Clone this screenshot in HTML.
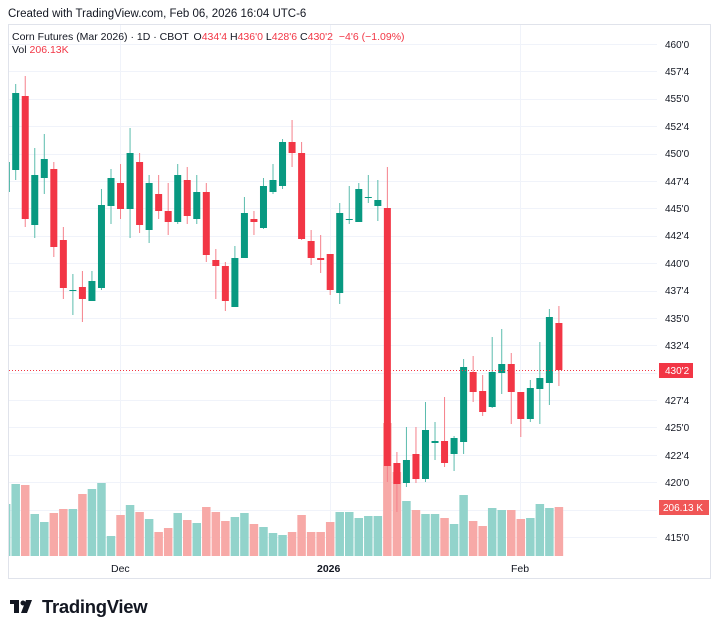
<!DOCTYPE html>
<html><head><meta charset="utf-8"><style>
html,body{margin:0;padding:0;background:#fff;}
body{width:720px;height:633px;overflow:hidden;font-family:"Liberation Sans",sans-serif;}
svg text{font-family:"Liberation Sans",sans-serif;}
</style></head><body>
<svg id="s" width="720" height="633" viewBox="0 0 720 633" xmlns="http://www.w3.org/2000/svg">
<rect x="0" y="0" width="720" height="633" fill="#fff"/>
<text x="8" y="17" font-size="11.5" fill="#131722">Created with TradingView.com, Feb 06, 2026 16:04 UTC-6</text>
<rect x="8.5" y="24.5" width="702" height="554" fill="none" stroke="#e0e3eb"/>
<g id="grid" stroke="#f0f3fa" stroke-width="1"></g>
<line x1="120.5" y1="25" x2="120.5" y2="556" stroke="#f0f3fa"/>
<line x1="330.5" y1="25" x2="330.5" y2="556" stroke="#f0f3fa"/>
<line x1="520.5" y1="25" x2="520.5" y2="556" stroke="#f0f3fa"/>
<g id="vol"></g>
<g id="cdl"></g>
<line x1="9" y1="370.5" x2="657" y2="370.5" stroke="#f23645" stroke-width="1" stroke-dasharray="1,2"/>
<g font-size="10" fill="#131722" id="lbl">
<text x="665" y="48">460'0</text><text x="665" y="75">457'4</text><text x="665" y="102">455'0</text>
<text x="665" y="130">452'4</text><text x="665" y="157">450'0</text><text x="665" y="185">447'4</text>
<text x="665" y="212">445'0</text><text x="665" y="239">442'4</text><text x="665" y="267">440'0</text>
<text x="665" y="294">437'4</text><text x="665" y="322">435'0</text><text x="665" y="349">432'4</text>
<text x="665" y="404">427'4</text><text x="665" y="431">425'0</text>
<text x="665" y="459">422'4</text><text x="665" y="486">420'0</text><text x="665" y="541">415'0</text>
</g>
<rect x="659" y="363" width="34" height="15" fill="#f23645"/>
<text x="665" y="374" font-size="10" fill="#fff">430'2</text>
<rect x="659" y="500" width="50" height="15" fill="#f05656"/>
<text x="663" y="511" font-size="10" fill="#fff">206.13 K</text>
<text x="12" y="40" font-size="10.5" fill="#131722">Corn Futures (Mar 2026) · 1D · CBOT <tspan dx="2">O</tspan><tspan fill="#f23645">434'4</tspan> <tspan>H</tspan><tspan fill="#f23645">436'0</tspan> <tspan>L</tspan><tspan fill="#f23645">428'6</tspan> <tspan>C</tspan><tspan fill="#f23645">430'2</tspan> <tspan fill="#f23645" dx="3">−4'6 (−1.09%)</tspan></text>
<text x="12" y="53" font-size="10.5" fill="#131722">Vol <tspan fill="#f23645">206.13K</tspan></text>
<text x="111" y="572" font-size="10.5" fill="#131722">Dec</text>
<text x="317" y="572" font-size="10.5" font-weight="bold" fill="#131722">2026</text>
<text x="511" y="572" font-size="10.5" fill="#131722">Feb</text>
<g fill="#131722"><rect x="10" y="600" width="9" height="4"/><rect x="14" y="600" width="5" height="13"/><circle cx="23" cy="603" r="2.5"/><polygon points="26,600 32,600 27,613 21,613"/></g>
<text x="42" y="613" font-size="18.5" font-weight="bold" fill="#131722" letter-spacing="-0.3">TradingView</text>
</svg>
<script>
var G='#089981',R='#f23645',GV='#92d3cb',RV='#f7a9a7',GW='#5bbcad',RW='#f5818b';
var d=[
[1,192,162,192,162],[1,84,93,170,180],[0,76,96,219,227],[1,148,175,225,238],[1,134,159,178,194],
[0,162,169,247,257],[0,227,240,288,299],[1,274,290,290,315],[0,271,287,299,322],[1,271,281,301,301],
[1,189,205,288,290],[1,169,178,206,224],[0,164,183,209,219],[1,128,153,209,238],[0,153,162,225,233],
[1,175,183,230,243],[0,175,194,211,219],[0,183,211,222,235],[1,164,175,222,224],[0,167,180,216,224],
[1,175,192,219,224],[0,183,192,255,262],[0,249,260,266,299],[0,262,266,301,311],[1,246,258,307,307],
[1,197,213,258,258],[0,211,219,222,235],[1,178,186,228,229],[1,164,180,192,194],[1,139,142,186,189],
[0,120,142,153,167],[0,142,153,239,240],[0,230,241,258,265],[0,235,258,260,273],[0,254,254,290,295],
[1,203,213,293,304],[1,186,219,219,224],[1,183,189,222,222],[1,175,197,197,203],[1,180,200,206,221],
[0,167,208,466,482],[0,452,463,484,512],[1,427,460,483,487],[0,427,454,479,483],[1,402,430,479,482],
[1,422,441,443,460],[0,397,441,463,467],[1,436,438,454,471],[1,359,367,442,454],[0,356,372,392,402],
[0,375,391,412,416],[1,337,372,407,408],[1,329,364,373,394],[0,353,364,392,424],[0,392,392,419,437],
[1,380,388,419,422],[1,342,378,389,424],[1,309,317,383,405],[0,306,323,370,386]];
var v=[504,484,485,514,522,513,509,509,494,489,483,536,515,505,512,519,532,528,513,520,523,507,512,521,517,513,524,527,533,535,532,515,532,532,522,512,512,518,516,516,423,472,501,510,514,514,518,524,495,521,526,508,510,510,519,518,504,508,507];
var ns='http://www.w3.org/2000/svg';
function el(p,t,a){var e=document.createElementNS(ns,t);for(var k in a)e.setAttribute(k,a[k]);p.appendChild(e);}
var grid=document.getElementById('grid');
for(var i=0;i<=18;i++){var y=Math.round(44+i*27.39)+0.5;el(grid,'line',{x1:9,x2:657,y1:y,y2:y});}
var vol=document.getElementById('vol'),c=document.getElementById('cdl');
for(var i=0;i<d.length;i++){
 var x=15.7+(i-1)*9.53;var q=d[i];var col=q[0]?G:R;
 var x0=Math.max(9,x-4.25);var w=x+4.25-x0;
 el(vol,'rect',{x:x0,y:v[i],width:w,height:556-v[i],fill:q[0]?GV:RV});
 if(x-0.5>9) el(c,'rect',{x:x-0.5,y:q[1],width:1,height:q[4]-q[1],fill:q[0]?GW:RW});
 var bx=Math.max(9,x-3.5);var bh=Math.max(1,q[3]-q[2]);
 el(c,'rect',{x:bx,y:q[2],width:x+3.5-bx,height:bh,fill:col});
}
</script>
</body></html>
